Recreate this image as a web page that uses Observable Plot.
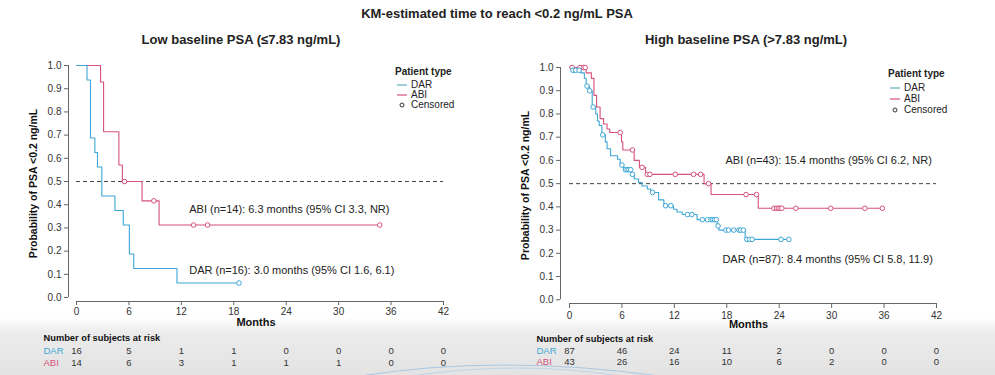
<!DOCTYPE html>
<html><head><meta charset="utf-8">
<script src="https://cdn.jsdelivr.net/npm/d3@7"></script>
<script src="https://cdn.jsdelivr.net/npm/@observablehq/plot@0.6"></script>
<style>
html,body{margin:0;padding:0;background:#fff;}
#root{position:relative;width:995px;height:375px;overflow:hidden;font-family:"Liberation Sans",Arial,sans-serif;color:#222;}
.abs{position:absolute;}
.title{position:absolute;font-weight:bold;font-size:13px;white-space:nowrap;line-height:14px;transform:translateX(-50%);}
.legend{position:absolute;font-size:10px;line-height:10px;color:#222;white-space:nowrap;}
.legend .hd{font-weight:bold;margin-bottom:3px;}
.legend .row{display:flex;align-items:center;height:10px;}
.legend svg{margin-right:2px;display:block;position:static;}
svg.pl{position:absolute;}
</style></head>
<body><div id="root">
<div class="abs" style="left:0;top:318px;width:995px;height:57px;background:linear-gradient(#ffffff 0px,#ececec 14px,#e3e3e3 57px);"></div>
<svg class="pl" style="left:0;top:340px" width="995" height="35"><path d="M360 36 Q 500 14 660 36" fill="none" stroke="#a9c8e2" stroke-width="1"/><path d="M410 36 Q 520 20 620 36" fill="none" stroke="#bcd4e8" stroke-width="1"/></svg>
<div class="title" style="left:497px;top:7px">KM-estimated time to reach &lt;0.2 ng/mL PSA</div>
<div class="title" style="left:241px;top:33px">Low baseline PSA (≤7.83 ng/mL)</div>
<div class="title" style="left:746px;top:33px">High baseline PSA (&gt;7.83 ng/mL)</div>
</div>
<script>
// ---- data ----
const monthTicks = [0, 6, 12, 18, 24, 30, 36, 42];
const probTicks = [0, 0.1, 0.2, 0.3, 0.4, 0.5, 0.6, 0.7, 0.8, 0.9, 1.0];
const groups = ["DAR", "ABI"];

// Low baseline PSA
const lowDarT = [0, 1.2, 1.6, 2.1, 2.4, 2.9, 4.4, 5.35, 6.05, 6.55, 11.5, 18.6];
const lowDarS = [1, 0.9375, 0.6875, 0.625, 0.5625, 0.4375, 0.375, 0.3125, 0.1875, 0.125, 0.0625, 0.0625];
const lowDarCens = [18.6];
const lowAbiT = [0, 2.75, 3.1, 4.85, 5.25, 7.5, 9.45, 34.7];
const lowAbiS = [1, 0.9286, 0.7143, 0.5714, 0.5, 0.4167, 0.3125, 0.3125];
const lowAbiCens = [5.5, 8.85, 13.4, 15.0, 34.7];
const lowRiskDar = [16, 5, 1, 1, 0, 0, 0, 0];
const lowRiskAbi = [14, 6, 3, 1, 1, 1, 0, 0];

// High baseline PSA
const highDarT = [0, 0.25, 1.3, 1.7, 1.9, 2.3, 2.6, 3.0, 3.2, 3.4, 3.7, 4.1, 4.3, 4.7, 5.5, 5.8, 6.2, 7.1, 7.4, 7.9, 8.3, 8.9, 9.3, 10.2, 10.8, 11.9, 12.3, 12.9, 14.6, 16.9, 17.1, 20.1, 25.1];
const highDarS = [1, 0.988, 0.977, 0.954, 0.92, 0.90, 0.83, 0.80, 0.77, 0.75, 0.71, 0.68, 0.65, 0.62, 0.605, 0.58, 0.56, 0.54, 0.52, 0.505, 0.49, 0.477, 0.462, 0.43, 0.405, 0.39, 0.378, 0.367, 0.345, 0.318, 0.30, 0.26, 0.26];
const highDarCens = [0.4, 0.7, 1.1, 2.0, 2.3, 2.7, 3.8, 6.0, 6.4, 6.6, 6.8, 7.0, 7.2, 9.5, 11.0, 11.6, 13.5, 14.0, 15.2, 15.8, 16.2, 16.4, 16.6, 16.8, 17.0, 17.9, 18.2, 18.8, 19.4, 19.6, 19.9, 20.3, 20.6, 20.9, 24.2, 25.1];
const highAbiT = [0, 1.9, 2.5, 2.8, 3.1, 3.5, 3.9, 4.3, 4.6, 5.95, 6.1, 7.4, 8.0, 8.7, 15.4, 16.2, 21.6, 35.8];
const highAbiS = [1, 0.977, 0.953, 0.88, 0.83, 0.78, 0.757, 0.735, 0.72, 0.68, 0.645, 0.60, 0.57, 0.54, 0.50, 0.453, 0.394, 0.394];
const highAbiCens = [0.3, 1.2, 1.6, 1.8, 5.8, 7.2, 8.3, 8.9, 9.2, 12.1, 14.2, 15.0, 15.9, 20.2, 21.4, 23.4, 23.7, 23.9, 24.1, 24.3, 25.9, 29.9, 33.8, 35.8];
const highRiskDar = [87, 46, 24, 11, 2, 0, 0, 0];
const highRiskAbi = [43, 26, 16, 10, 6, 2, 0, 0];

const lowLabels = ["ABI (n=14): 6.3 months (95% CI 3.3, NR)", "DAR (n=16): 3.0 months (95% CI 1.6, 6.1)"];
const highLabels = ["ABI (n=43): 15.4 months (95% CI 6.2, NR)", "DAR (n=87): 8.4 months (95% CI 5.8, 11.9)"];

// ---- style ----
const DAR_C = "#3ea7d6";
const ABI_C = "#d6517b";
const DAR_LEG = "#5fb1bd";
const FONT = "'Liberation Sans', Arial, sans-serif";

const rows = (T, S) => T.map((t, i) => ({t, s: S[i]}));
const sAt = (T, S, t) => { let v = S[0]; for (let i = 0; i < T.length; i++) if (T[i] <= t) v = S[i]; return v; };
const cens = (T, S, C) => C.map(t => ({t, s: sAt(T, S, t)}));

function panel(cfg) {
  const root = document.getElementById("root");
  const xDom = [cfg.x0, 42], yDom = [cfg.y0, 1];
  const main = Plot.plot({
    width: 460, height: 280,
    marginLeft: cfg.ml, marginRight: cfg.mr, marginTop: cfg.mt, marginBottom: cfg.mb,
    x: {domain: xDom}, y: {domain: yDom},
    style: {fontFamily: FONT, fontSize: "10px", color: "#333", background: "transparent", overflow: "visible"},
    marks: [
      Plot.ruleY([cfg.y0], {x1: 0, x2: 42, stroke: "#666", strokeWidth: 1}),
      Plot.ruleX([cfg.x0], {y1: 0, y2: 1, stroke: "#666", strokeWidth: 1}),
      Plot.axisX({ticks: monthTicks, tickSize: cfg.tsx, tickPadding: cfg.tpx, tickFormat: d => d, label: null, stroke: "#666"}),
      Plot.axisY({ticks: probTicks, tickSize: 4, tickPadding: 3, tickFormat: d3.format(".1f"), label: null, stroke: "#666"}),
      Plot.ruleY([0.5], {x1: 0, x2: 42, stroke: "#444", strokeWidth: 1, strokeDasharray: "4,3"}),
      Plot.line(rows(cfg.abiT, cfg.abiS), {x: "t", y: "s", curve: "step-after", stroke: ABI_C, strokeWidth: 1.1}),
      Plot.line(rows(cfg.darT, cfg.darS), {x: "t", y: "s", curve: "step-after", stroke: DAR_C, strokeWidth: 1.1}),
      Plot.dot(cens(cfg.abiT, cfg.abiS, cfg.abiC), {x: "t", y: "s", r: 2.3, stroke: ABI_C, fill: "white", strokeWidth: 1}),
      Plot.dot(cens(cfg.darT, cfg.darS, cfg.darC), {x: "t", y: "s", r: 2.3, stroke: DAR_C, fill: "white", strokeWidth: 1}),
      Plot.text([cfg.labels[0]], {x: () => cfg.abiLab[0], y: () => cfg.abiLab[1], textAnchor: "start", fontSize: 11, fill: "#222"}),
      Plot.text([cfg.labels[1]], {x: () => cfg.darLab[0], y: () => cfg.darLab[1], textAnchor: "start", fontSize: 11, fill: "#222"}),
      Plot.text(["Months"], {frameAnchor: "bottom", dy: 24, fontWeight: "bold", fontSize: 11, fill: "#111"}),
      Plot.text(["Probability of PSA <0.2 ng/mL"], {frameAnchor: "left", textAnchor: "middle", rotate: -90, dx: -35, fontWeight: "bold", fontSize: 10.5, fill: "#111"})
    ]
  });
  main.classList.add("pl");
  main.style.left = cfg.left + "px"; main.style.top = "55px";
  root.appendChild(main);

  const riskRows = [];
  monthTicks.forEach((m, i) => {
    riskRows.push({m, g: "DAR", n: cfg.riskDar[i]});
    riskRows.push({m, g: "ABI", n: cfg.riskAbi[i]});
  });
  const risk = Plot.plot({
    width: 460, height: 45,
    marginLeft: cfg.ml, marginRight: cfg.mr, marginTop: 0, marginBottom: 0,
    x: {domain: xDom, axis: null},
    y: {type: "point", domain: ["hdr", ...groups], range: [8, cfg.riskBottom], padding: 0, axis: null},
    style: {fontFamily: FONT, fontSize: "9px", color: "#333", background: "transparent", overflow: "visible"},
    marks: [
      Plot.text(riskRows, {x: "m", y: "g", text: "n", fontSize: 9.5, fill: "#333"}),
      Plot.text(["Number of subjects at risk"], {y: () => "hdr", frameAnchor: "left", dx: cfg.riskDx, textAnchor: "start", fontWeight: "bold", fontSize: 9.3, fill: "#111"}),
      Plot.text(["DAR"], {y: () => "DAR", frameAnchor: "left", dx: cfg.riskDx, textAnchor: "start", fontSize: 9.5, fill: DAR_C}),
      Plot.text(["ABI"], {y: () => "ABI", frameAnchor: "left", dx: cfg.riskDx, textAnchor: "start", fontSize: 9.5, fill: ABI_C})
    ]
  });
  risk.classList.add("pl");
  risk.style.left = cfg.left + "px"; risk.style.top = "330px";
  root.appendChild(risk);

  const leg = document.createElement("div");
  leg.className = "legend";
  leg.style.left = cfg.legX + "px"; leg.style.top = cfg.legY + "px";
  leg.innerHTML =
    '<div class="hd">Patient type</div>' +
    `<div class="row" style="height:${cfg.legRow}px"><svg width="14" height="10"><line x1="2" x2="12" y1="5" y2="5" stroke="${DAR_LEG}" stroke-width="1.2"/></svg>DAR</div>` +
    `<div class="row" style="height:${cfg.legRow}px"><svg width="14" height="10"><line x1="2" x2="12" y1="5" y2="5" stroke="${ABI_C}" stroke-width="1.2"/></svg>ABI</div>` +
    `<div class="row" style="height:${cfg.legRow}px"><svg width="14" height="10"><circle cx="7" cy="5" r="2" fill="none" stroke="#333" stroke-width="1"/></svg>Censored</div>`;
  root.appendChild(leg);
}

panel({
  left: 0, ml: 68, mr: 17, mt: 10, mb: 34, x0: -0.916, y0: -0.017, tsx: 4, tpx: 2,
  darT: lowDarT, darS: lowDarS, darC: lowDarCens,
  abiT: lowAbiT, abiS: lowAbiS, abiC: lowAbiCens,
  labels: lowLabels, abiLab: [12.9, 0.379], darLab: [12.9, 0.116],
  riskDar: lowRiskDar, riskAbi: lowRiskAbi, riskBottom: 32, riskDx: -25,
  legX: 395, legY: 67, legRow: 10
});
panel({
  left: 490, ml: 70, mr: 14, mt: 12, mb: 32, x0: -1.03, y0: -0.016, tsx: 5, tpx: 3,
  darT: highDarT, darS: highDarS, darC: highDarCens,
  abiT: highAbiT, abiS: highAbiS, abiC: highAbiCens,
  labels: highLabels, abiLab: [17.85, 0.60], darLab: [17.5, 0.174],
  riskDar: highRiskDar, riskAbi: highRiskAbi, riskBottom: 31, riskDx: -24,
  legX: 888, legY: 69, legRow: 11
});
</script>
</body></html>
